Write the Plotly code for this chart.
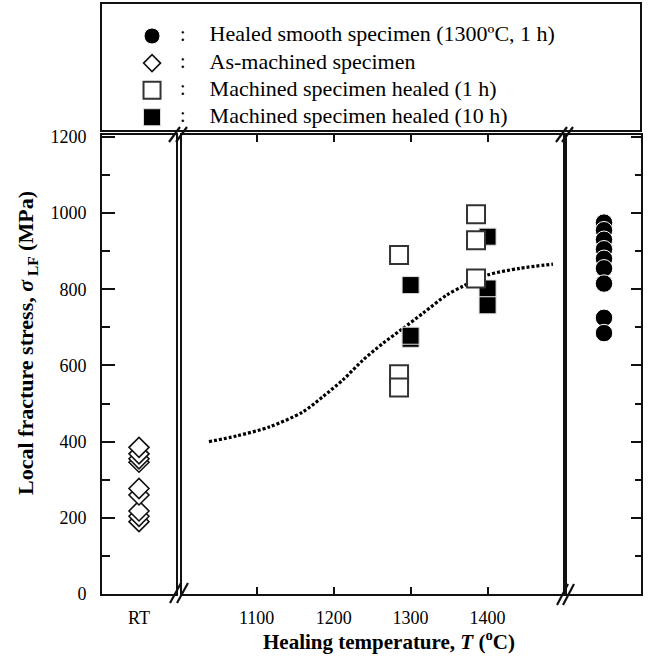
import plotly.graph_objects as go

# ---------------- data ----------------
rt_label = ["RT"]
as_machined_vals = [190, 204, 218, 260, 277, 346, 355, 368, 385]          # diamonds at RT
healed_smooth_vals = [975, 955, 930, 905, 880, 855, 815, 725, 685]        # circles (1300C, 1 h)
healed_1h_T = [1285, 1285, 1285, 1385, 1385, 1385]
healed_1h_vals = [890, 577, 542, 997, 929, 828]
healed_10h_T = [1300, 1300, 1300, 1400, 1400, 1400]
healed_10h_vals = [811, 670, 678, 938, 802, 758]
curve_T = [1038, 1074, 1117, 1160, 1186, 1212, 1238, 1264, 1290, 1316, 1347, 1368, 1399, 1442, 1485]
curve_vals = [400, 415, 439, 478, 518, 562, 614, 658, 697, 737, 785, 808, 837, 855, 866]
x_ticks = [1100, 1200, 1300, 1400]
legend_labels = [
    "Healed smooth specimen (1300\u00baC, 1 h)",
    "As-machined specimen",
    "Machined specimen healed (1 h)",
    "Machined specimen healed (10 h)",
]

# ---------------- layout geometry ----------------
W, H = 650, 658
ML, MR, MT, MB = 102, 9, 4, 64
PW = W - ML - MR
PH = H - MT - MB


def px(x):
    return (x - ML) / PW


def py(y):
    return (H - MB - y) / PH


FONT = "Liberation Serif"
LINE = "#111111"

main_dom = [0, py(135)]
dom_left = [0, px(176)]
dom_mid = [px(182), px(563)]
dom_right = [px(567), 1]

sty_diamond = dict(symbol="diamond", size=15.4, color="white", line=dict(color="#111", width=1.6))
sty_circle = dict(symbol="circle", size=17.5, color="black", line=dict(color="white", width=1))
sty_open = dict(symbol="square", size=18, color="white", line=dict(color="#333", width=2))
sty_fill = dict(symbol="square", size=17, color="black", line=dict(color="#ddd", width=1))

fig = go.Figure()

# dotted trend curve
fig.add_trace(go.Scatter(x=curve_T, y=curve_vals, mode="lines", xaxis="x2", yaxis="y2",
                         line=dict(color="black", width=3.2, dash="3px,2px", shape="spline", smoothing=0.8),
                         showlegend=False, hoverinfo="skip"))
# as-machined (RT)
fig.add_trace(go.Scatter(x=rt_label * len(as_machined_vals), y=as_machined_vals, mode="markers",
                         xaxis="x", yaxis="y", marker=sty_diamond, showlegend=False))
# healed smooth
fig.add_trace(go.Scatter(x=[0.5] * len(healed_smooth_vals), y=healed_smooth_vals, mode="markers",
                         xaxis="x3", yaxis="y3", marker=sty_circle, showlegend=False))
# healed 10 h
fig.add_trace(go.Scatter(x=healed_10h_T, y=healed_10h_vals, mode="markers",
                         xaxis="x2", yaxis="y2", marker=sty_fill, showlegend=False))
# healed 1 h
fig.add_trace(go.Scatter(x=healed_1h_T, y=healed_1h_vals, mode="markers",
                         xaxis="x2", yaxis="y2", marker=sty_open, showlegend=False))

# ---- legend panel (drawn on its own axes) ----
leg_styles = [dict(sty_circle, size=16), dict(sty_diamond, size=13),
              dict(sty_open, size=17), dict(sty_fill, size=17)]
for i, (lab, st) in enumerate(zip(legend_labels, leg_styles)):
    fig.add_trace(go.Scatter(x=[0.093], y=[i], mode="markers", marker=st,
                             xaxis="x4", yaxis="y4", showlegend=False, hoverinfo="skip"))
fig.add_trace(go.Scatter(x=[0.150] * len(legend_labels), y=list(range(len(legend_labels))),
                         mode="text", text=[":"] * len(legend_labels),
                         textposition="middle center", textfont=dict(family=FONT, size=20, color="black"),
                         xaxis="x4", yaxis="y4", showlegend=False, hoverinfo="skip"))
fig.add_trace(go.Scatter(x=[0.200] * len(legend_labels), y=list(range(len(legend_labels))),
                         mode="text", text=legend_labels,
                         textposition="middle right", textfont=dict(family=FONT, size=22, color="black"),
                         xaxis="x4", yaxis="y4", showlegend=False, hoverinfo="skip"))

common_axis = dict(showline=True, linecolor=LINE, linewidth=2, showgrid=False, zeroline=False,
                   automargin=False)
tickfont = dict(family=FONT, size=18, color="black")
yr = [0, 1205]

fig.update_layout(
    width=W, height=H,
    margin=dict(l=ML, r=MR, t=MT, b=MB, autoexpand=False),
    paper_bgcolor="white", plot_bgcolor="white",
    font=dict(family=FONT, color="black"),
    showlegend=False,
    xaxis=dict(common_axis, domain=dom_left, anchor="y", mirror=True, ticks="",
               tickfont=tickfont, ticklabelstandoff=6, fixedrange=True),
    yaxis=dict(common_axis, domain=main_dom, anchor="x", range=yr, mirror=True,
               tickvals=[0, 200, 400, 600, 800, 1000, 1200],
               ticks="inside", ticklen=13, tickwidth=2, tickcolor=LINE,
               minor=dict(tickvals=[100, 300, 500, 700, 900, 1100], ticks="inside", ticklen=8,
                          tickwidth=2, tickcolor=LINE),
               tickfont=tickfont, ticklabelstandoff=10),
    xaxis2=dict(common_axis, domain=dom_mid, anchor="y2", range=[1003, 1498], mirror="ticks",
                tickvals=x_ticks, ticks="inside", ticklen=7, tickwidth=2, tickcolor=LINE,
                tickfont=tickfont, ticklabelstandoff=6),
    yaxis2=dict(common_axis, domain=main_dom, anchor="x2", range=yr, mirror=True,
                ticks="", showticklabels=False),
    xaxis3=dict(common_axis, domain=dom_right, anchor="y3", range=[0, 1], mirror=True,
                ticks="", showticklabels=False),
    yaxis3=dict(common_axis, domain=main_dom, anchor="x3", range=yr, side="right", mirror=True,
                tickvals=[0, 200, 400, 600, 800, 1000, 1200],
                ticks="inside", ticklen=10, tickwidth=2, tickcolor=LINE,
                minor=dict(tickvals=[100, 300, 500, 700, 900, 1100], ticks="inside", ticklen=6,
                           tickwidth=2, tickcolor=LINE),
                showticklabels=False),
    xaxis4=dict(common_axis, domain=[0, px(640)], anchor="y4", range=[0, 1], mirror=True,
                ticks="", showticklabels=False),
    yaxis4=dict(common_axis, domain=[py(130), 1], anchor="x4", range=[3.47, -1.18], mirror=True,
                ticks="", showticklabels=False),
)

# axis titles
fig.add_annotation(xref="paper", yref="paper", x=px(389), y=py(640), xanchor="center", yanchor="middle",
                   text="<b>Healing temperature, <i>T</i> (<sup>o</sup>C)</b>", showarrow=False,
                   font=dict(family=FONT, size=21, color="black"))
fig.add_annotation(xref="paper", yref="paper", x=px(27), y=py(343), xanchor="center", yanchor="middle",
                   textangle=-90, showarrow=False,
                   text="<b>Local fracture stress, <i>\u03c3</i><sub> LF</sub> (MPa)</b>",
                   font=dict(family=FONT, size=22, color="black"))

# axis-break marks (//)
breaks = [
    ((170, 603), (181, 583)), ((177, 603), (188, 583)),
    ((169, 142), (180, 127)), ((176, 142), (187, 127)),
    ((557, 605), (568, 584)), ((563, 605), (574, 584)),
    ((556, 142), (567, 127)), ((562, 142), (573, 127)),
]
for (x0, y0), (x1, y1) in breaks:
    fig.add_shape(type="line", xref="paper", yref="paper", x0=px(x0), y0=py(y0), x1=px(x1), y1=py(y1),
                  line=dict(color=LINE, width=2.2))

fig.write_html("out.html")
